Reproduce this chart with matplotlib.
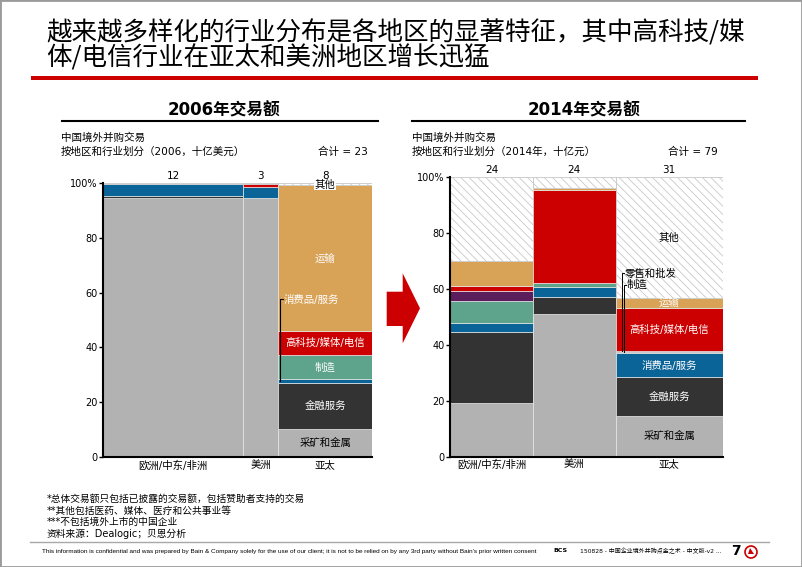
import matplotlib.pyplot as plt
from matplotlib.patches import Polygon, Rectangle, Ellipse
from matplotlib.lines import Line2D
import numpy as np

plt.rcParams['font.family'] = ['DejaVu Sans', 'Noto Sans CJK SC']
plt.rcParams['hatch.linewidth'] = 0.6
plt.rcParams['axes.unicode_minus'] = False

W, H = 802, 567

# ---- data ----
regions = ['欧洲/中东/非洲', '美洲', '亚太']
industries = ['采矿和金属', '金融服务', '消费品/服务', '制造', '零售和批发',
              '高科技/媒体/电信', '运输', '其他']
colors = ['#b2b2b2', '#333333', '#0b6497', '#5ea38b', '#5c1d5d',
          '#cc0000', '#d8a257', 'white']

totals_2006 = [12, 3, 8]
totals_2014 = [24, 24, 31]

# share (%) per industry, same order as industries
emea_2006 = [94.5, 0.5, 4.5, 0, 0, 0, 0, 0.5]
americas_2006 = [94.5, 0, 4.0, 0, 0, 1.0, 0, 0.5]
apac_2006 = [10.2, 17.0, 1.3, 8.6, 0, 8.8, 53.1, 1.0]

emea_2014 = [19.1, 25.4, 3.2, 7.9, 3.8, 1.7, 9.1, 29.8]
americas_2014 = [51.1, 5.9, 3.9, 1.2, 0.2, 33.2, 0.5, 4.0]
apac_2014 = [14.6, 13.8, 8.6, 0.6, 0.4, 15.1, 3.8, 43.1]


def fx(x):
    return x / W


def fy(y):
    return 1 - y / H


def draw_panel(ax, totals, shares):
    totals = np.array(totals, dtype=float)
    left = np.concatenate([[0], np.cumsum(totals)[:-1]])
    for r in range(len(totals)):
        bottom = 0
        for i, s in enumerate(shares[r]):
            if s > 0:
                if industries[i] == '其他':
                    ax.bar(left[r], s, width=totals[r], bottom=bottom, align='edge',
                           facecolor='white', edgecolor='#c8c8c8',
                           hatch='\\\\\\\\', linewidth=0.6)
                else:
                    ax.bar(left[r], s, width=totals[r], bottom=bottom, align='edge',
                           color=colors[i], edgecolor='#e6e6e6', linewidth=0.5)
            bottom += s
    centers = left + totals / 2
    ax.set_xlim(0, totals.sum())
    ax.set_ylim(0, 100)
    for sp in ['top', 'right']:
        ax.spines[sp].set_visible(False)
    for sp in ['left', 'bottom']:
        ax.spines[sp].set_linewidth(1.5)
    ax.set_yticks([0, 20, 40, 60, 80, 100])
    ax.set_yticklabels(['0', '20', '40', '60', '80', '100%'], fontsize=7)
    ax.tick_params(axis='y', length=3, width=1, pad=1)
    ax.set_xticks(centers)
    ax.set_xticklabels(regions, fontsize=7.5)
    ax.tick_params(axis='x', length=0, pad=2)
    for c, t in zip(centers, totals):
        ax.text(c, 102.5, '%d' % t, ha='center', va='center', fontsize=7.5, clip_on=False)
    return left, centers


def seg_mid(shares, name):
    i = industries.index(name)
    return sum(shares[:i]) + shares[i] / 2


fig = plt.figure(figsize=(W / 100, H / 100), dpi=100)

# slide frame and title
fig.add_artist(Rectangle((0, 0), 1, 1, transform=fig.transFigure, fill=False,
                         edgecolor='#9a9a9a', linewidth=2))
fig.text(fx(46), fy(33), '越来越多样化的行业分布是各地区的显著特征，其中高科技/媒',
         fontsize=18.4, family=['Noto Sans CJK SC', 'DejaVu Sans'], va='center')
fig.text(fx(46), fy(58), '体/电信行业在亚太和美洲地区增长迅猛',
         fontsize=18.4, family=['Noto Sans CJK SC', 'DejaVu Sans'], va='center')
fig.add_artist(Rectangle((fx(31), fy(80)), fx(758) - fx(31), fy(76) - fy(80),
                         transform=fig.transFigure, color='#cc0000', linewidth=0))

# panel headers
fig.text(fx(224), fy(110), '2006年交易额', fontsize=12, fontweight='bold', ha='center', va='center')
fig.add_artist(Line2D([fx(62), fx(378)], [fy(121), fy(121)], color='black', linewidth=1.5))
fig.text(fx(61), fy(138), '中国境外并购交易', fontsize=7.6, va='center')
fig.text(fx(61), fy(152), '按地区和行业划分（2006，十亿美元）', fontsize=7.6, va='center')
fig.text(fx(368), fy(152), '合计 = 23', fontsize=7.6, ha='right', va='center')

fig.text(fx(584), fy(110), '2014年交易额', fontsize=12, fontweight='bold', ha='center', va='center')
fig.add_artist(Line2D([fx(412), fx(745)], [fy(121), fy(121)], color='black', linewidth=1.5))
fig.text(fx(412), fy(138), '中国境外并购交易', fontsize=7.6, va='center')
fig.text(fx(412), fy(152), '按地区和行业划分（2014年，十亿元）', fontsize=7.6, va='center')
fig.text(fx(718), fy(152), '合计 = 79', fontsize=7.6, ha='right', va='center')

# ---- 2006 panel ----
ax1 = fig.add_axes([fx(103), fy(457.3), fx(372) - fx(103), fy(182.7) - fy(457.3)])
left1, cen1 = draw_panel(ax1, totals_2006, [emea_2006, americas_2006, apac_2006])
c = cen1[2]
lbl = dict(ha='center', va='center', fontsize=7.5)
ax1.text(c, seg_mid(apac_2006, '采矿和金属'), '采矿和金属', color='black', **lbl)
ax1.text(c, seg_mid(apac_2006, '金融服务'), '金融服务', color='white', **lbl)
ax1.text(c, seg_mid(apac_2006, '制造'), '制造', color='white', **lbl)
ax1.text(c, seg_mid(apac_2006, '高科技/媒体/电信'), '高科技/媒体/电信', color='white', **lbl)
ax1.text(c, seg_mid(apac_2006, '运输'), '运输', color='white', **lbl)
ax1.text(c, 99.3, '其他', color='black',
         bbox=dict(facecolor='white', edgecolor='none', pad=0.3), **lbl)
# leader for consumer goods
xl = left1[2] + 0.13
ym = seg_mid(apac_2006, '消费品/服务')
ax1.plot([xl, xl, xl + 0.3], [ym, 57.5, 57.5], color='black', linewidth=0.8)
ax1.text(xl + 0.33, 57.5, '消费品/服务', color='white', ha='left', va='center', fontsize=7.5)

# ---- 2014 panel ----
ax2 = fig.add_axes([fx(450), fy(456.7), fx(722.7) - fx(450), fy(177.3) - fy(456.7)])
left2, cen2 = draw_panel(ax2, totals_2014, [emea_2014, americas_2014, apac_2014])
c = cen2[2]
ax2.text(c, seg_mid(apac_2014, '采矿和金属'), '采矿和金属', color='black', **lbl)
ax2.text(c, seg_mid(apac_2014, '金融服务'), '金融服务', color='white', **lbl)
ax2.text(c, seg_mid(apac_2014, '消费品/服务'), '消费品/服务', color='white', **lbl)
ax2.text(c, seg_mid(apac_2014, '高科技/媒体/电信'), '高科技/媒体/电信', color='white', **lbl)
ax2.text(c, seg_mid(apac_2014, '运输'), '运输', color='white', **lbl)
ax2.text(c, seg_mid(apac_2014, '其他'), '其他', color='black', **lbl)
# leaders for retail and manufacturing
x_r = left2[2] + 1.7
x_m = left2[2] + 2.4
y_r = seg_mid(apac_2014, '零售和批发')
y_m = seg_mid(apac_2014, '制造')
ax2.plot([x_r, x_r, x_r + 0.6], [y_r, 65.7, 65.7], color='black', linewidth=0.7)
ax2.text(x_r + 0.75, 65.7, '零售和批发', ha='left', va='center', fontsize=7.5)
ax2.plot([x_m, x_m, x_m + 0.6], [y_m, 61.4, 61.4], color='black', linewidth=0.7)
ax2.text(x_m + 0.75, 61.4, '制造', ha='left', va='center', fontsize=7.5)

# arrow between panels
arrow_px = [(386.7, 291.7), (402.7, 291.7), (402.7, 273.3), (420, 308.3),
            (402.7, 343.3), (402.7, 326), (386.7, 326)]
fig.add_artist(Polygon([(fx(x), fy(y)) for x, y in arrow_px], closed=True,
                       transform=fig.transFigure, color='#cc0000', linewidth=0))

# footnotes
notes = ['*总体交易额只包括已披露的交易额，包括赞助者支持的交易',
         '**其他包括医药、媒体、医疗和公共事业等',
         '***不包括境外上市的中国企业',
         '资料来源：Dealogic；贝恩分析']
for yy, t in zip([499, 510.7, 521.7, 534], notes):
    fig.text(fx(46.5), fy(yy), t, fontsize=7, va='center')
fig.add_artist(Line2D([fx(30), fx(769)], [fy(541.7), fy(541.7)], color='#a8a8a8', linewidth=1))
fig.text(fx(42), fy(551), "This information is confidential and was prepared by Bain & Company solely "
         "for the use of our client; it is not to be relied on by any 3rd party without "
         "Bain's prior written consent", fontsize=4.6, family=['Liberation Sans'], va='center')
fig.text(fx(553), fy(551), 'BCS', fontsize=4.5, fontweight='bold', va='center')
fig.text(fx(580), fy(551), '150828 - 中国企业境外并购点金之术 - 中文版-v2 ...', fontsize=4.3, va='center')
fig.text(fx(731), fy(551), '7', fontsize=10, fontweight='bold', va='center')
fig.add_artist(Ellipse((fx(751), fy(552)), fx(12), 12 / H, transform=fig.transFigure,
                       fill=False, edgecolor='#cc0000', linewidth=1.2))
fig.add_artist(Polygon([(fx(750), fy(548)), (fx(754), fy(554)), (fx(748), fy(554))],
                       closed=True, transform=fig.transFigure, color='#cc0000', linewidth=0))

fig.savefig('out.png', dpi=100)
